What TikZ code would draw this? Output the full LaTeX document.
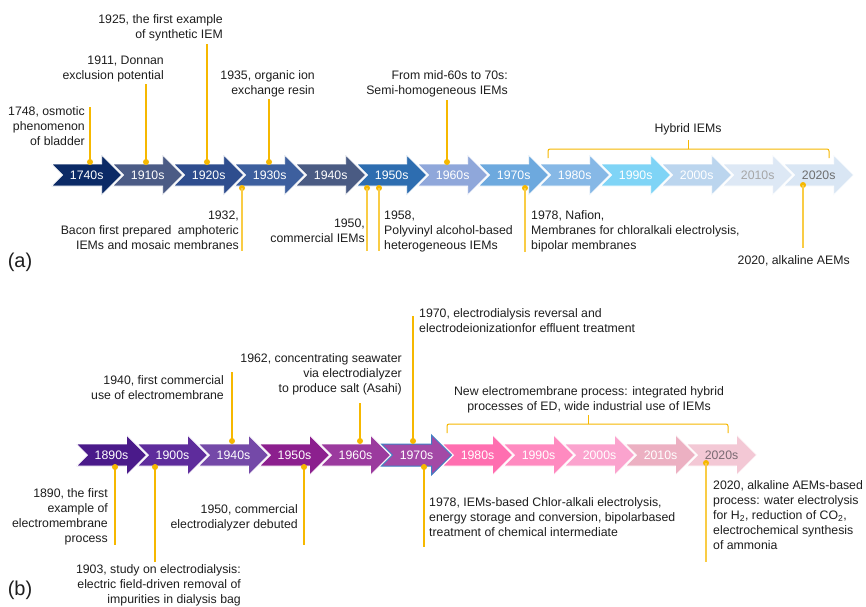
\documentclass[tikz,border=0pt]{standalone}
\usepackage{fontspec}
\setmainfont{Liberation Sans}
\definecolor{gold}{HTML}{F6B800}
\definecolor{goldl}{HTML}{F9CC45}
\definecolor{txtc}{HTML}{1E1E1E}
% (a) colours
\definecolor{a1}{HTML}{0B2A66}
\definecolor{a2}{HTML}{4B5B85}
\definecolor{a3}{HTML}{2E4D8E}
\definecolor{a4}{HTML}{3D5F9E}
\definecolor{a5}{HTML}{4A5B83}
\definecolor{a6}{HTML}{2D6DB0}
\definecolor{a7}{HTML}{8FA7DA}
\definecolor{a8}{HTML}{6DA9DE}
\definecolor{a9}{HTML}{86B8E6}
\definecolor{a10}{HTML}{7FD4F6}
\definecolor{a11}{HTML}{BBD5EE}
\definecolor{a12}{HTML}{DDE8F5}
\definecolor{a13}{HTML}{D9E6F4}
\definecolor{ta12}{HTML}{A6A6A6}
\definecolor{ta13}{HTML}{6E6E6E}
% (b) colours
\definecolor{b1}{HTML}{4A1A8A}
\definecolor{b2}{HTML}{5E2C9C}
\definecolor{b3}{HTML}{7449A8}
\definecolor{b4}{HTML}{8C1F8E}
\definecolor{b5}{HTML}{9B3A9E}
\definecolor{b6}{HTML}{A349A6}
\definecolor{b7}{HTML}{FF6EB0}
\definecolor{b8}{HTML}{FF8AC0}
\definecolor{b9}{HTML}{FBA3CE}
\definecolor{b10}{HTML}{ECB0C2}
\definecolor{b11}{HTML}{F3C8D5}
\definecolor{tb11}{HTML}{7A6A72}
\definecolor{blueedge}{HTML}{3F7FC4}
\begin{document}
\begin{tikzpicture}[x=1pt,y=-1pt,
  chevron/.style={draw=white,line width=0.7pt,line join=miter},
  chevlab/.style={inner sep=0,font=\fontsize{12.3}{15}\selectfont},
  txt/.style={inner sep=0,font=\fontsize{12.3}{15}\selectfont,text=txtc},
  dot/.style={circle,fill=gold,inner sep=0,minimum size=6pt},
  conn/.style={draw=gold,line width=1.1pt},
  connl/.style={draw=goldl,line width=1.1pt},
  brace/.style={draw=gold,line width=1pt,rounded corners=2pt},
  panel/.style={inner sep=0,font=\fontsize{20}{24}\selectfont,text=txtc}]
\useasboundingbox[fill=white] (0,0) rectangle (866,606);

% ---------------- (a) timeline ----------------
\foreach \lab/\fc/\tc [count=\i from 0] in {1740s/a1/white,1910s/a2/white,1920s/a3/white,1930s/a4/white,1940s/a5/white,1950s/a6/white,1960s/a7/white,1970s/a8/white,1980s/a9/white,1990s/a10/white,2000s/a11/white,2010s/a12/ta12,2020s/a13/ta13}{
  \pgfmathsetmacro\xo{51.7+61*\i}
  \path[chevron,fill=\fc] (\xo,164) -- ++(50,0) -- ++(0,-9) -- ++(20,20) -- ++(-20,20) -- ++(0,-9) -- ++(-50,0) -- ++(11,-11) -- cycle;
  \node[chevlab,text=\tc] (a\lab) at (\xo+35,175) {\lab};
}

% top texts (a)
\node[txt,anchor=north east,align=right] (t1748) at (85,106.5) {1748, osmotic\\phenomenon\\of bladder};
\node[txt,anchor=north east,align=right] (t1911) at (164,55.5) {1911, Donnan\\exclusion potential};
\node[txt,anchor=north east,align=right] (t1925) at (223,14.5) {1925, the first example\\of synthetic IEM};
\node[txt,anchor=north east,align=right] (t1935) at (315,70.5) {1935, organic ion\\exchange resin};
\node[txt,anchor=north east,align=right] (t60s) at (508,70.5) {From mid-60s to 70s:\\Semi-homogeneous IEMs};
\node[txt,anchor=north] (thyb) at (688,123.5) {Hybrid IEMs};
% bottom texts (a)
\node[txt,anchor=north east,align=right] (t1932) at (239,210.5) {1932,\\Bacon first prepared\hspace{3pt} amphoteric\\IEMs and mosaic membranes};
\node[txt,anchor=north east,align=right] (t1950a) at (365,218.5) {1950,\\commercial IEMs};
\node[txt,anchor=north west,align=left] (t1958) at (384,210.5) {1958,\\Polyvinyl alcohol-based\\heterogeneous IEMs};
\node[txt,anchor=north west,align=left] (t1978a) at (531,210.5) {1978, Nafion,\\Membranes for chloralkali electrolysis,\\bipolar membranes};
\node[txt,anchor=north east] (t2020a) at (850,255.5) {2020, alkaline AEMs};
\node[panel] (pa) at (20,262) {(a)};

% dots and connectors (a)
\node[dot] (d1748) at (90,162) {};
\node[dot] (d1911) at (146,162) {};
\node[dot] (d1925) at (207,162) {};
\node[dot] (d1935) at (269,162) {};
\node[dot] (d60s) at (447,162) {};
\node[dot] (d1932) at (242,188) {};
\node[dot] (d1950a) at (367,188) {};
\node[dot] (d1958) at (379,188) {};
\node[dot] (d1978a) at (525,188) {};
\node[dot] (d2020a) at (803,185) {};
\coordinate (e1748) at (90,107);
\coordinate (e1911) at (146,84);
\coordinate (e1925) at (207,44);
\coordinate (e1935) at (269,99);
\coordinate (e60s) at (447,100);
\coordinate (e1932) at (242,251);
\coordinate (e1950a) at (367,251);
\coordinate (e1958) at (379,251);
\coordinate (e1978a) at (525,252);
\coordinate (e2020a) at (803,248);
\draw[conn] (d1748.center) -- (e1748);
\draw[conn] (d1911.center) -- (e1911);
\draw[conn] (d1925.center) -- (e1925);
\draw[conn] (d1935.center) -- (e1935);
\draw[conn] (d60s.center) -- (e60s);
\draw[connl] (d1932.center) -- (e1932);
\draw[connl] (d1950a.center) -- (e1950a);
\draw[connl] (d1958.center) -- (e1958);
\draw[connl] (d1978a.center) -- (e1978a);
\draw[connl] (d2020a.center) -- (e2020a);
% brace (a)
\coordinate (ba1) at (548,158);
\coordinate (ba2) at (829,158);
\coordinate (bam) at (688,140);
\draw[brace] (ba1) -- (548,149) -- (829,149) -- (ba2);
\draw[brace] (688,149) -- (bam);

% ---------------- (b) timeline ----------------
\foreach \lab/\fc/\tc [count=\i from 0] in {1890s/b1/white,1900s/b2/white,1940s/b3/white,1950s/b4/white,1960s/b5/white,1970s/b6/white,1980s/b7/white,1990s/b8/white,2000s/b9/white,2010s/b10/white,2020s/b11/tb11}{
  \pgfmathsetmacro\xo{76.5+61*\i}
  \ifnum\i=5
    \path[chevron,fill=\fc,draw=blueedge,line width=1pt] (\xo,444) -- ++(50,0) -- ++(0,-9) -- ++(20,20) -- ++(-20,20) -- ++(0,-9) -- ++(-50,0) -- ++(11,-11) -- cycle;
  \else
    \path[chevron,fill=\fc] (\xo,444) -- ++(50,0) -- ++(0,-9) -- ++(20,20) -- ++(-20,20) -- ++(0,-9) -- ++(-50,0) -- ++(11,-11) -- cycle;
  \fi
  \node[chevlab,text=\tc] (b\lab) at (\xo+35,455) {\lab};
}

% top texts (b)
\node[txt,anchor=north east,align=right] (t1940) at (224,375.5) {1940, first commercial\\use of electromembrane};
\node[txt,anchor=north east,align=right] (t1962) at (402,353.5) {1962, concentrating seawater\\via electrodialyzer\\to produce salt (Asahi)};
\node[txt,anchor=north west,align=left] (t1970) at (419,308.5) {1970, electrodialysis reversal and\\electrodeionizationfor effluent treatment};
\node[txt,anchor=north,align=center] (tnew) at (589,386.5) {New electromembrane process: integrated hybrid\\processes of ED, wide industrial use of IEMs};
% bottom texts (b)
\node[txt,anchor=north east,align=right] (t1890) at (108,488.5) {1890, the first\\example of\\electromembrane\\process};
\node[txt,anchor=north east,align=right] (t1903) at (241,564.5) {1903, study on electrodialysis:\\electric field-driven removal of\\impurities in dialysis bag};
\node[txt,anchor=north east,align=right] (t1950b) at (298,504.5) {1950, commercial\\electrodialyzer debuted};
\node[txt,anchor=north west,align=left] (t1978b) at (429,497.5) {1978, IEMs-based Chlor-alkali electrolysis,\\energy storage and conversion, bipolarbased\\treatment of chemical intermediate};
\node[txt,anchor=north west,align=left] (t2020b) at (713,480.5) {2020, alkaline AEMs-based\\process: water electrolysis\\for H\textsubscript{2}, reduction of CO\textsubscript{2},\\electrochemical synthesis\\of ammonia};
\node[panel] (pb) at (20,590) {(b)};

% dots and connectors (b)
\node[dot] (d1940) at (232,441) {};
\node[dot] (d1962) at (360,441) {};
\node[dot] (d1970) at (413,441) {};
\node[dot] (d1890) at (115,467) {};
\node[dot] (d1903) at (155,467) {};
\node[dot] (d1950b) at (304,467) {};
\node[dot] (d1978b) at (424,467) {};
\node[dot] (d2020b) at (706,463) {};
\coordinate (e1940) at (232,372);
\coordinate (e1962) at (360,403);
\coordinate (e1970) at (413,316);
\coordinate (e1890) at (115,545);
\coordinate (e1903) at (155,562);
\coordinate (e1950b) at (304,545);
\coordinate (e1978b) at (424,547);
\coordinate (e2020b) at (706,562);
\draw[conn] (d1940.center) -- (e1940);
\draw[conn] (d1962.center) -- (e1962);
\draw[conn] (d1970.center) -- (e1970);
\draw[conn] (d1890.center) -- (e1890);
\draw[conn] (d1903.center) -- (e1903);
\draw[conn] (d1950b.center) -- (e1950b);
\draw[conn] (d1978b.center) -- (e1978b);
\draw[connl] (d2020b.center) -- (e2020b);
% brace (b)
\coordinate (bb1) at (447,433);
\coordinate (bb2) at (728,433);
\coordinate (bbm) at (588,415);
\draw[brace] (bb1) -- (447,424) -- (728,424) -- (bb2);
\draw[brace] (588,424) -- (bbm);
\end{tikzpicture}
\end{document}
